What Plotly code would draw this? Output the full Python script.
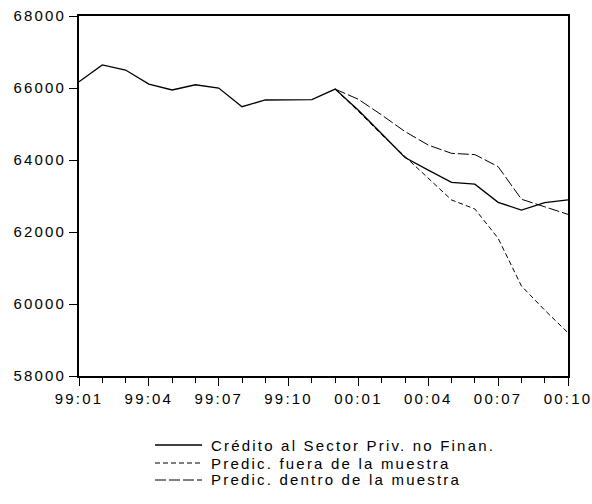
import plotly.graph_objects as go

# Monthly periods, Jan 1999 – Oct 2000
periods = ["99:01", "99:02", "99:03", "99:04", "99:05", "99:06", "99:07", "99:08",
           "99:09", "99:10", "99:11", "99:12", "00:01", "00:02", "00:03", "00:04",
           "00:05", "00:06", "00:07", "00:08", "00:09", "00:10"]

credito = [66175, 66640, 66500, 66110, 65945, 66090, 66000, 65480,
           65667, 65670, 65675, 65970, 65380, 64730, 64070, 63720,
           63380, 63330, 62825, 62610, 62815, 62890]

# Forecasts start at the last observed month of 1999
fc_start = 11
pred_fuera = [65970, 65350, 64700, 64090, 63500, 62890, 62640, 61825, 60500, 59830, 59200]
pred_dentro = [65970, 65685, 65250, 64790, 64415, 64185, 64150, 63815, 62910, 62700, 62490]

y_ticks = [58000, 60000, 62000, 64000, 66000, 68000]

series_names = ["Crédito al Sector Priv. no Finan.",
                "Predic. fuera de la muestra",
                "Predic. dentro de la muestra"]
series_dash = ["solid", "5px,3px", "11px,3px"]
series_width = [1.3, 1, 1]

tick_every = 3
x_all = list(range(len(periods)))
x_fc = x_all[fc_start:]


def spaced(s):
    return '<span style="letter-spacing:2.2px">' + s + "</span>"


font = dict(family="Liberation Sans, Arial, sans-serif", size=15, color="black")

fig = go.Figure()
for name, xs, ys, dash, w in zip(series_names,
                                 [x_all, x_fc, x_fc],
                                 [credito, pred_fuera, pred_dentro],
                                 series_dash, series_width):
    fig.add_trace(go.Scatter(x=xs, y=ys, mode="lines", name=name,
                             line=dict(color="black", width=w, dash=dash),
                             showlegend=False))

# Plot-area geometry in pixels (for the hand-placed key below the axes)
W, H = 592, 504
ml, mr, mt, mb = 79, 24, 16, 128
pw, ph = W - ml - mr, H - mt - mb


def px_x(p):
    return (p - ml) / pw


def px_y(p):
    return (H - mb - p) / ph


key_rows = [445, 463, 480]
for name, dash, w, row in zip(series_names, series_dash, series_width, key_rows):
    fig.add_shape(type="line", xref="paper", yref="paper",
                  x0=px_x(155), x1=px_x(202), y0=px_y(row), y1=px_y(row),
                  line=dict(color="black", width=w, dash=dash))
    fig.add_annotation(xref="paper", yref="paper", x=px_x(209), y=px_y(row),
                       xanchor="left", yanchor="middle", showarrow=False,
                       text=spaced(name), font=font)

fig.update_layout(
    width=W, height=H,
    margin=dict(l=ml, r=mr, t=mt, b=mb, autoexpand=False),
    paper_bgcolor="white", plot_bgcolor="white",
    font=font,
    showlegend=False,
)

fig.update_xaxes(
    range=[0, len(periods) - 1],
    tickmode="array",
    tickvals=x_all[::tick_every],
    ticktext=[spaced(p) for p in periods[::tick_every]],
    ticklabeloverflow="allow",
    ticks="outside", ticklen=8, tickwidth=1, tickcolor="black",
    minor=dict(tickmode="linear", tick0=0, dtick=1, ticks="outside",
               ticklen=5, tickwidth=1, tickcolor="black"),
    showline=True, linecolor="black", linewidth=1.8, mirror=True,
    showgrid=False, zeroline=False,
)
fig.update_yaxes(
    range=[58000, 68000],
    tickmode="array",
    tickvals=y_ticks,
    ticktext=[spaced(str(v)) for v in y_ticks],
    ticklabeloverflow="allow",
    ticks="outside", ticklen=8, tickwidth=1, tickcolor="black",
    showline=True, linecolor="black", linewidth=1.8, mirror=True,
    showgrid=False, zeroline=False,
)

fig.write_html("out.html")
